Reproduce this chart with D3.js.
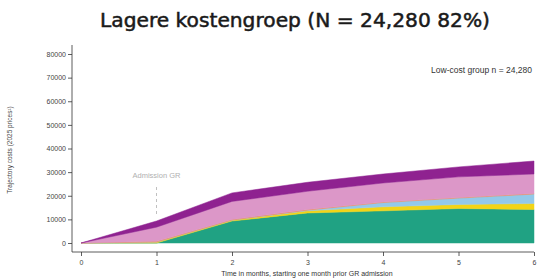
<!DOCTYPE html>
<html><head><meta charset="utf-8">
<script src="https://cdn.jsdelivr.net/npm/d3@7"></script>
<style>body{margin:0;background:#fff}svg{display:block}</style>
</head><body><svg id="c" width="539" height="279"></svg>
<script>
const months = [0, 1, 2, 3, 4, 5, 6];
const teal   = [0, 0, 9300, 12700, 13600, 14600, 14200];
const yellow = [0, 400, 400, 900, 1700, 1700, 2500];
const blue   = [0, 0, 0, 300, 1800, 2700, 4000];
const orange = [0, 300, 300, 300, 300, 300, 300];
const pink   = [0, 6000, 7600, 7700, 8000, 8700, 8200];
const purple = [0, 2600, 3600, 3800, 3800, 4200, 5500];
const yTicks = [0, 10000, 20000, 30000, 40000, 50000, 60000, 70000, 80000];
const seriesKeys = ["teal", "yellow", "blue", "orange", "pink", "purple"];
const seriesVals = {teal, yellow, blue, orange, pink, purple};
const colors = {teal:"#20a283", yellow:"#f3d416", blue:"#93c9ea", orange:"#ef8e5e", pink:"#dc97c8", purple:"#8f2290"};

const svg = d3.select("#c");
const x = d3.scaleLinear().domain([0, 6]).range([81, 534]);
const y = d3.scaleLinear().domain([0, 80000]).range([243, 54]);

const table = months.map((m, i) => {
  const r = {m};
  seriesKeys.forEach(k => r[k] = seriesVals[k][i]);
  return r;
});
const stacked = d3.stack().keys(seriesKeys)(table);
const area = d3.area().x(d => x(d.data.m)).y0(d => y(d[0])).y1(d => y(d[1]));
svg.append("g").selectAll("path").data(stacked).join("path")
  .attr("d", area).attr("fill", d => colors[d.key]).attr("stroke", d => colors[d.key]).attr("stroke-width", 0.5);

// title
svg.append("text").attr("x", 295).attr("y", 27).attr("text-anchor", "middle")
  .attr("font-family", "DejaVu Sans").attr("font-size", 19)
  .attr("textLength", 390).attr("lengthAdjust", "spacingAndGlyphs")
  .attr("stroke", "#1a1a1a").attr("stroke-width", 0.5)
  .attr("fill", "#1a1a1a").text("Lagere kostengroep (N = 24,280 82%)");

// axes
const yAxis = d3.axisLeft(y).tickValues(yTicks).tickSize(4).tickPadding(2).tickFormat(d3.format("d"));
const gy = svg.append("g").attr("transform", "translate(72,0)").call(yAxis);
gy.select(".domain").attr("d", "M0,45V252");
const xAxis = d3.axisBottom(x).tickValues(months).tickSize(4).tickPadding(4).tickFormat(d3.format("d"));
const gx = svg.append("g").attr("transform", "translate(0,252)").call(xAxis);
gx.select(".domain").attr("d", "M72,0H534");
[gx, gy].forEach(g => {
  g.selectAll("text").attr("font-family", "Liberation Sans").attr("font-size", 7).attr("fill", "#444");
  g.selectAll("line,.domain").attr("stroke", "#333").attr("stroke-width", 0.8);
});

// axis titles
svg.append("text").attr("transform", "translate(12,150) rotate(-90)").attr("text-anchor", "middle")
  .attr("font-family", "Liberation Sans").attr("font-size", 6.5).attr("fill", "#444")
  .text("Trajectory costs (2025 prices\u00b9)");
svg.append("text").attr("x", 307).attr("y", 276).attr("text-anchor", "middle")
  .attr("font-family", "Liberation Sans").attr("font-size", 7).attr("fill", "#333")
  .text("Time in months, starting one month prior GR admission");

// legend
svg.append("text").attr("x", 532).attr("y", 73).attr("text-anchor", "end")
  .attr("font-family", "Liberation Sans").attr("font-size", 8.5).attr("fill", "#333")
  .text("Low-cost group n = 24,280");

// annotation
svg.append("text").attr("x", x(1)).attr("y", 178).attr("text-anchor", "middle")
  .attr("font-family", "Liberation Sans").attr("font-size", 7.5).attr("fill", "#b0b0b0")
  .text("Admission GR");
svg.append("line").attr("x1", x(1)).attr("x2", x(1)).attr("y1", 187).attr("y2", 214)
  .attr("stroke", "#b0b0b0").attr("stroke-width", 0.8).attr("stroke-dasharray", "3,3");
</script></body></html>
